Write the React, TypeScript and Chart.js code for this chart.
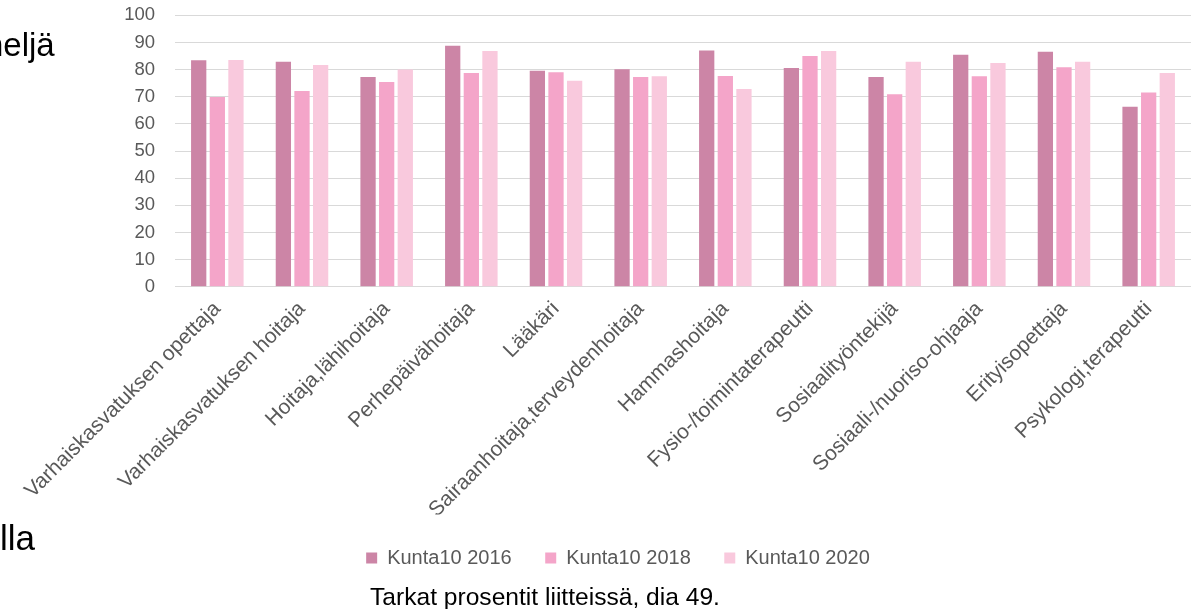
import React, { useEffect, useRef } from "react";
import { Chart, registerables } from "chart.js";

Chart.register(...registerables);

const categories = [
  "Varhaiskasvatuksen opettaja",
  "Varhaiskasvatuksen hoitaja",
  "Hoitaja,lähihoitaja",
  "Perhepäivähoitaja",
  "Lääkäri",
  "Sairaanhoitaja,terveydenhoitaja",
  "Hammashoitaja",
  "Fysio-/toimintaterapeutti",
  "Sosiaalityöntekijä",
  "Sosiaali-/nuoriso-ohjaaja",
  "Erityisopettaja",
  "Psykologi,terapeutti",
];

const series2016 = [83.4, 82.9, 77.3, 88.8, 79.6, 80.1, 87.0, 80.6, 77.3, 85.5, 86.6, 66.3];
const series2018 = [69.9, 72.1, 75.4, 78.7, 79.0, 77.3, 77.6, 85.0, 70.9, 77.5, 80.9, 71.6];
const series2020 = [83.5, 81.7, 80.0, 86.8, 75.9, 77.5, 72.8, 86.8, 82.9, 82.4, 82.9, 78.7];

const seriesNames = ["Kunta10 2016", "Kunta10 2018", "Kunta10 2020"];
const seriesColors = ["#CC85A6", "#F4A5C9", "#F9C9DD"];

const yTicks = [0, 10, 20, 30, 40, 50, 60, 70, 80, 90, 100];

const FONT = "'Liberation Sans', Arial, sans-serif";

export default function App() {
  const canvasRef = useRef<HTMLCanvasElement | null>(null);

  useEffect(() => {
    const canvas = canvasRef.current;
    if (!canvas) return;
    const values = [series2016, series2018, series2020];
    const chart = new Chart(canvas, {
      type: "bar",
      data: {
        labels: categories,
        datasets: values.map((v, i) => ({
          label: seriesNames[i],
          data: v,
          backgroundColor: seriesColors[i],
          borderWidth: 0,
          categoryPercentage: 0.66,
          barPercentage: 0.82,
        })),
      },
      options: {
        animation: false,
        responsive: false,
        maintainAspectRatio: false,
        layout: { padding: { left: 45, right: 0, top: 15.3, bottom: 31 } },
        plugins: {
          tooltip: { enabled: false },
          title: { display: false },
          legend: {
            position: "bottom",
            labels: {
              boxWidth: 11,
              boxHeight: 11,
              padding: 33.5,
              color: "#595959",
              font: { family: FONT, size: 20 },
            },
          },
        },
        scales: {
          x: {
            grid: { display: false, drawTicks: false },
            border: { display: true, color: "#d9d9d9", width: 1 },
            ticks: {
              maxRotation: 45,
              minRotation: 45,
              autoSkip: false,
              padding: 10,
              color: "#595959",
              font: { family: FONT, size: 21 },
            },
            afterFit: (scale: any) => {
              scale.height = 227.8;
            },
          },
          y: {
            min: 0,
            max: 100,
            afterBuildTicks: (scale: any) => {
              scale.ticks = yTicks.map((v) => ({ value: v }));
            },
            grid: { color: "#d9d9d9", lineWidth: 1, drawTicks: false },
            border: { display: false },
            ticks: {
              padding: 20,
              color: "#595959",
              font: { family: FONT, size: 18.5 },
            },
            afterFit: (scale: any) => {
              scale.width = 130;
              scale.paddingTop = 0;
              scale.paddingBottom = 0;
            },
          },
        },
      },
    });
    return () => chart.destroy();
  }, []);

  return (
    <div
      style={{
        position: "fixed",
        left: 0,
        top: 0,
        width: 1191,
        height: 609,
        background: "#ffffff",
        overflow: "hidden",
        fontFamily: FONT,
      }}
    >
      <canvas ref={canvasRef} width={1191} height={609} style={{ position: "absolute", left: 0, top: 0 }} />
      <div style={{ position: "absolute", left: -15, top: 26, fontSize: 33, color: "#000", lineHeight: "38px", whiteSpace: "nowrap" }}>
        neljä
      </div>
      <div style={{ position: "absolute", left: 0, top: 518, fontSize: 35, color: "#000", lineHeight: "40px", whiteSpace: "nowrap" }}>
        lla
      </div>
      <div style={{ position: "absolute", left: 370, top: 582, fontSize: 24.6, color: "#000", lineHeight: "29px", whiteSpace: "nowrap" }}>
        Tarkat prosentit liitteissä, dia 49.
      </div>
    </div>
  );
}
